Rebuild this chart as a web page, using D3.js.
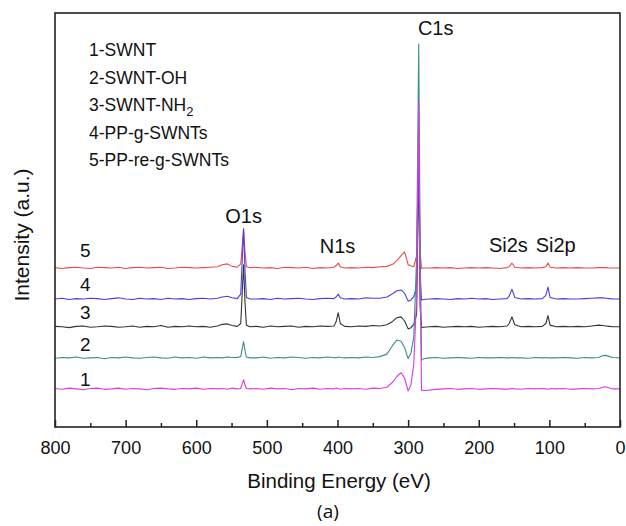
<!DOCTYPE html>
<html>
<head>
<meta charset="utf-8">
<script src="https://cdn.jsdelivr.net/npm/d3@7"></script>
<style>
  body { margin: 0; background: #fff; }
  svg text { font-family: "Liberation Sans", Arial, sans-serif; fill: #111; }
</style>
</head>
<body>
<div id="chart"></div>
<script>
// binding energies (eV) shared by all five spectra
const energies = [800, 790, 780, 770, 760, 750, 740, 730, 720, 710, 700, 690, 680, 670, 660, 650, 640, 630, 620, 610, 600, 590, 580,
    570, 563, 556, 549,
    542, 537, 535, 533, 531, 529, 524,
    515, 505, 495, 485, 475, 465, 455, 445, 435, 425, 415,
    405, 402, 399, 396, 390,
    380, 370, 360, 350, 340, 330,
    322, 316, 310, 305, 300, 296, 292, 288, 285, 283, 281, 278,
    270, 260, 250, 240, 230, 220, 210, 200, 190, 180, 170, 160,
    157, 153, 149,
    140, 130, 120, 110,
    105, 102, 99,
    90, 80, 70, 60, 50, 40, 30,
    25, 20, 15,
    10, 0];

// intensities (a.u.), without the stacking offset
const swnt = [0.1, -0.1, 0.2, 0, -0.2, 0.1, 0.2, -0.1, 0, 0.2, -0.1, 0.1, 0, -0.2, 0.1, 0.2, 0, -0.1, 0.1, 0, 0.2, -0.1, 0.1,
    0, 0.1, -0.1, 0.2,
    0, 0.1, 1.2, 2.2, 1.0, 0.1, 0,
    0.1, -0.1, 0.2, 0, 0.1, -0.2, 0.1, 0, 0.2, -0.1, 0.1,
    0, 0.2, 0.1, -0.1, 0.1,
    0, 0.1, -0.1, 0.2, 0.1, 0.4,
    1.6, 3.0, 3.9, 2.6, -0.5, 1.0, 6, 22, 69.8, 25, -0.3, -0.4,
    -0.3, -0.1, 0, 0.1, -0.1, 0, 0.1, -0.1, 0, 0.1, 0, -0.1,
    0, 0.1, 0,
    -0.1, 0.1, 0, 0.1,
    0, -0.1, 0.1,
    0, 0.1, -0.1, 0, 0.1, 0, 0.1,
    0.4, 0.5, 0.2,
    0, 0];

const swntOH = [-0.1, 0.1, 0, 0.2, -0.1, 0, 0.1, -0.2, 0.1, 0, 0.2, 0, -0.1, 0.1, 0.2, 0, -0.1, 0.2, 0, 0.1, -0.1, 0.2, 0,
    0.1, 0, 0.2, 0.1,
    0.1, 0.3, 2.2, 3.9, 1.8, 0.2, 0,
    0, 0.2, -0.1, 0.1, 0, 0.2, 0.1, -0.1, 0.1, 0, 0.2,
    0.1, 0, 0.2, 0.1, 0,
    0.1, 0, 0.2, 0.1, 0.3, 0.9,
    3.0, 4.3, 4.0, 2.5, -0.2, 1.2, 5, 24, 75.8, 28, -0.6, -0.2,
    0, 0.1, -0.1, 0, 0.1, 0, -0.1, 0.1, 0, 0, 0.1, 0,
    0, 0.1, 0,
    0, -0.1, 0.1, 0,
    0.1, 0, 0,
    0, 0.1, 0, -0.1, 0.1, 0, 0.1,
    0.5, 0.6, 0.3,
    0.1, 0];

const swntNH2 = [0.1, 0, -0.2, 0.1, 0.2, -0.1, 0, 0.2, 0.1, -0.1, 0, 0.2, -0.1, 0.1, 0, 0.3, -0.1, 0.1, 0, 0.2, 0, 0.1, -0.1,
    0.2, 0.6, 0.7, 0.3,
    0.1, 0.8, 8, 15, 6, 0.4, 0,
    0.1, -0.1, 0.2, 0, 0.1, 0.2, -0.1, 0.1, 0, 0.2, 0.1,
    0.2, 1.2, 3.4, 0.8, 0.1,
    0, 0.2, 0.1, 0.3, 0.2, 0.5,
    1.3, 2.2, 2.4, 1.4, -0.5, -0.2, 0.6, 3, 40, 5, -0.2, -0.1,
    0, 0.1, -0.1, 0, 0.1, 0, 0.1, -0.1, 0, 0.1, 0, 0.2,
    0.8, 2.4, 0.5,
    0, 0.1, 0, 0.1,
    0.8, 2.7, 0.4,
    0, 0.1, 0, 0.1, 0, 0.2, 0.4,
    0.3, 0.2, 0.1,
    0, 0];

const ppgSwnt = [0, 0.2, -0.1, 0.1, 0, 0.2, 0.1, -0.1, 0.1, 0.3, 0, -0.1, 0.2, 0, 0.1, -0.1, 0.2, 0, 0.1, -0.1, 0.1, 0.2, 0,
    0.2, 0.5, 0.7, 0.3,
    0.1, 1.2, 9, 17, 7, 0.4, 0,
    0, 0.1, -0.1, 0.2, 0, 0.1, 0.2, 0, -0.1, 0.1, 0.2,
    0.1, 0.5, 1.2, 0.3, 0,
    0.1, 0, 0.3, 0.2, 0.2, 0.5,
    1.3, 2.0, 2.2, 1.4, -0.5, -0.2, 0.6, 3, 35, 5, -0.2, -0.1,
    0, 0.1, 0, -0.1, 0.1, 0, 0.2, 0, 0.1, -0.1, 0, 0.1,
    0.7, 2.4, 0.4,
    0, 0.1, 0, 0.1,
    0.9, 2.9, 0.4,
    0, 0.1, 0, 0, 0.1, 0.2, 0.3,
    0.3, 0.2, 0.1,
    0, 0];

const ppRegSwnt = [0.1, -0.1, 0.1, 0.2, 0, -0.1, 0.2, 0.1, 0, 0.2, -0.1, 0.1, 0.2, 0, 0.1, 0.2, -0.1, 0, 0.2, 0.1, 0, 0.1, 0.2,
    0.3, 0.8, 1.0, 0.4,
    0.2, 1, 5, 9.5, 4, 0.3, 0.1,
    0.2, 0, 0.1, -0.1, 0.2, 0.1, 0, 0.2, -0.1, 0.1, 0,
    0.2, 0.6, 1.2, 0.3, 0,
    0.1, 0, 0.2, 0.1, 0.3, 0.4,
    0.9, 1.8, 3.0, 3.9, 0.8, 0.5, 0.3, 3, 30, 4, -0.1, 0,
    0, 0.1, 0, 0.1, -0.1, 0, 0.1, 0, 0.1, 0, -0.1, 0.1,
    0.3, 1.2, 0.2,
    0, 0.1, 0, 0.1,
    0.3, 1.2, 0.2,
    0, 0.1, 0, 0.1, 0, 0, 0.1,
    0.1, 0.1, 0,
    0, 0];

// stacking offset of each spectrum (a.u.)
const offsets = [9.2, 16.7, 24.2, 30.9, 38.4];
const seriesNames = ['1', '2', '3', '4', '5'];
const legendLabels = ['1-SWNT', '2-SWNT-OH', '3-SWNT-NH', '4-PP-g-SWNTs', '5-PP-re-g-SWNTs'];
const peakLabels = ['O1s', 'N1s', 'C1s', 'Si2s', 'Si2p'];
const peakEnergies = [533, 400, 261, 158, 91];
const peakLevels = [49.2, 42, 94.7, 42.2, 42.2];
const majorTicks = [800, 700, 600, 500, 400, 300, 200, 100, 0];
const minorTicks = [750, 650, 550, 450, 350, 250, 150, 50];

const colors = ['#dd3cdd', '#3b8f8b', '#333333', '#4a3fe0', '#ea4b4e'];
const fontFamily = '"Liberation Sans", Arial, sans-serif';

const margin = {
        top: 13,
        right: 6,
        bottom: 99,
        left: 55
    },
    width = 626,
    height = 526,
    chartWidth = width - margin.left - margin.right,
    chartHeight = height - margin.top - margin.bottom;

const svg = d3.select('#chart')
    .append('svg')
    .attr('width', width)
    .attr('height', height);

const g = svg.append('g')
    .attr('transform', 'translate(' + margin.left + ',' + margin.top + ')');

let x = d3.scaleLinear()
    .domain([800, 0])
    .range([0, chartWidth]);

let y = d3.scaleLinear()
    .domain([0, 100])
    .range([chartHeight, 0]);

const spectra = [swnt, swntOH, swntNH2, ppgSwnt, ppRegSwnt].map((vals, i) => ({
    name: seriesNames[i],
    color: colors[i],
    points: energies.map((e, j) => ({ e: e, v: vals[j] + offsets[i] }))
}));

const line = d3.line()
    .x(d => x(d.e))
    .y(d => y(d.v));

// draw order: 5, 3, 4 underneath, then 2 and 1 on top
const order = [4, 2, 3, 1, 0];
g.selectAll('path.spectrum')
    .data(order.map(i => spectra[i]))
    .enter()
    .append('path')
    .attr('class', 'spectrum')
    .attr('fill', 'none')
    .attr('stroke', d => d.color)
    .attr('stroke-width', 1.1)
    .attr('stroke-linejoin', 'round')
    .attr('d', d => line(d.points));

// numbers next to each spectrum
g.selectAll('text.num')
    .data(spectra)
    .enter()
    .append('text')
    .attr('class', 'num')
    .attr('x', 25)
    .attr('y', (d, i) => y(offsets[i]) - [3, 7, 8, 8, 11][i])
    .style('font-size', '19px')
    .text(d => d.name);

// peak labels
g.selectAll('text.peak')
    .data(peakLabels)
    .enter()
    .append('text')
    .attr('class', 'peak')
    .attr('x', (d, i) => x(peakEnergies[i]))
    .attr('y', (d, i) => y(peakLevels[i]))
    .attr('text-anchor', 'middle')
    .style('font-size', '20px')
    .text(d => d);

// legend
const legend = g.append('g')
    .attr('transform', 'translate(34,43)');

legend.selectAll('text')
    .data(legendLabels)
    .enter()
    .append('text')
    .attr('y', (d, i) => i * 27.5)
    .style('font-size', '17.5px')
    .each(function (d, i) {
        const t = d3.select(this);
        t.append('tspan').text(d);
        if (i === 2) {
            t.append('tspan')
                .attr('dy', 5)
                .style('font-size', '13px')
                .text('2');
        }
    });

// x axis, ticks pointing inward
const xAxis = g.append('g')
    .attr('transform', 'translate(0,' + chartHeight + ')')
    .call(d3.axisBottom(x)
        .tickValues(majorTicks)
        .tickSize(-7)
        .tickPadding(14)
        .tickFormat(d3.format('d')));

xAxis.selectAll('text')
    .style('font-size', '18px')
    .style('font-family', fontFamily)
    .attr('fill', '#111');

g.append('g')
    .attr('transform', 'translate(0,' + chartHeight + ')')
    .call(d3.axisBottom(x)
        .tickValues(minorTicks)
        .tickSize(-4)
        .tickFormat(''));

g.selectAll('.domain').remove();
g.selectAll('.tick line')
    .attr('stroke', '#222')
    .attr('stroke-width', 1.5);

// frame
g.append('rect')
    .attr('x', 0)
    .attr('y', 0)
    .attr('width', chartWidth)
    .attr('height', chartHeight)
    .attr('fill', 'none')
    .attr('stroke', '#222')
    .attr('stroke-width', 1.6);

// axis titles
svg.append('text')
    .attr('x', 339)
    .attr('y', 488)
    .attr('text-anchor', 'middle')
    .style('font-size', '20.5px')
    .text('Binding Energy (eV)');

svg.append('text')
    .attr('transform', 'translate(29,235) rotate(-90)')
    .attr('text-anchor', 'middle')
    .style('font-size', '21px')
    .text('Intensity (a.u.)');

svg.append('text')
    .attr('x', 328)
    .attr('y', 518)
    .attr('text-anchor', 'middle')
    .style('font-size', '19px')
    .style('font-family', '"Open Sans", sans-serif')
    .text('(a)');
</script>
</body>
</html>
